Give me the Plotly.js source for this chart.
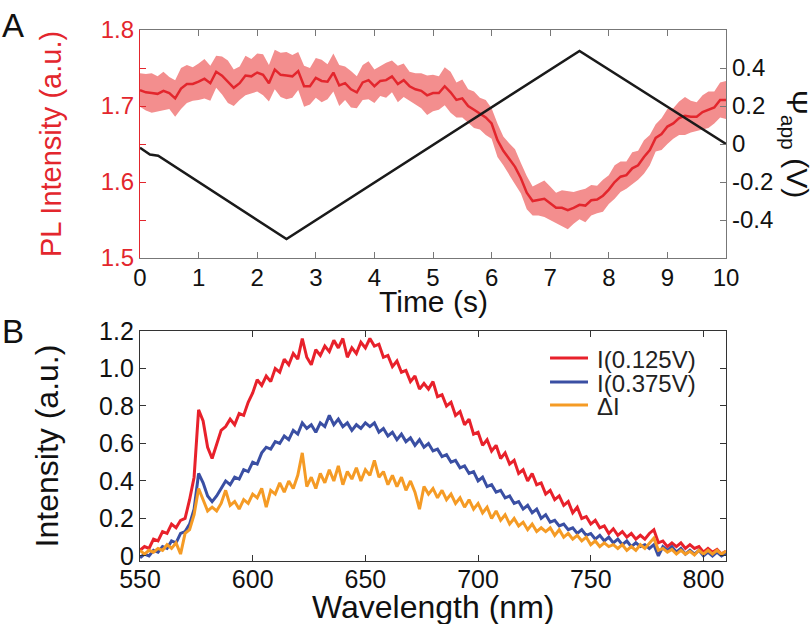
<!DOCTYPE html>
<html>
<head>
<meta charset="utf-8">
<script src="https://cdn.plot.ly/plotly-3.0.1.min.js"></script>
<style>
  body { margin: 0; background: #fff; }
  #chart { width: 812px; height: 624px; }
</style>
</head>
<body>
<div id="chart"></div>
<script>
// panel A: PL intensity vs time, with applied potential ramp
const time = [0,0.1,0.2,0.3,0.4,0.5,0.6,0.7,0.8,0.9,
  1,1.1,1.2,1.3,1.4,1.5,1.6,1.7,1.8,1.9,
  2,2.1,2.2,2.3,2.4,2.5,2.6,2.7,2.8,2.9,
  3,3.1,3.2,3.3,3.4,3.5,3.6,3.7,3.8,3.9,
  4,4.1,4.2,4.3,4.4,4.5,4.6,4.7,4.8,4.9,
  5,5.1,5.2,5.3,5.4,5.5,5.6,5.7,5.8,5.9,
  6,6.1,6.2,6.3,6.4,6.5,6.6,6.7,6.8,6.9,
  7,7.1,7.2,7.3,7.4,7.5,7.6,7.7,7.8,7.9,
  8,8.1,8.2,8.3,8.4,8.5,8.6,8.7,8.8,8.9,
  9,9.1,9.2,9.3,9.4,9.5,9.6,9.7,9.8,9.9,
  10];
const plMean = [1.721,1.718,1.717,1.716,1.720,1.717,1.710,1.723,1.729,1.729,
  1.732,1.736,1.730,1.745,1.740,1.732,1.724,1.730,1.740,1.739,
  1.744,1.741,1.730,1.748,1.741,1.740,1.739,1.746,1.726,1.726,
  1.737,1.733,1.732,1.744,1.727,1.730,1.722,1.718,1.731,1.734,
  1.726,1.733,1.734,1.739,1.729,1.734,1.726,1.722,1.720,1.714,
  1.717,1.717,1.726,1.718,1.708,1.710,1.700,1.695,1.690,1.685,
  1.677,1.655,1.641,1.630,1.620,1.605,1.586,1.575,1.577,1.578,
  1.572,1.566,1.566,1.563,1.566,1.570,1.569,1.576,1.577,1.582,
  1.590,1.600,1.607,1.609,1.618,1.622,1.633,1.642,1.658,1.663,
  1.673,1.677,1.684,1.687,1.686,1.686,1.692,1.695,1.698,1.708,
  1.708];
const plErr = [0.022,0.024,0.026,0.023,0.025,0.021,0.024,0.027,0.025,0.022,
  0.024,0.026,0.023,0.021,0.025,0.028,0.024,0.022,0.026,0.023,
  0.025,0.027,0.024,0.026,0.029,0.031,0.028,0.025,0.027,0.024,
  0.026,0.028,0.023,0.025,0.027,0.022,0.024,0.021,0.023,0.025,
  0.022,0.020,0.023,0.021,0.024,0.022,0.019,0.021,0.023,0.026,
  0.024,0.022,0.025,0.027,0.023,0.025,0.022,0.024,0.021,0.023,
  0.020,0.022,0.019,0.021,0.023,0.020,0.022,0.019,0.021,0.024,
  0.022,0.020,0.023,0.025,0.021,0.019,0.022,0.020,0.018,0.021,
  0.019,0.022,0.020,0.018,0.021,0.019,0.022,0.020,0.018,0.021,
  0.023,0.020,0.022,0.025,0.021,0.019,0.022,0.024,0.021,0.023,
  0.025];
const rampTime = [0, 0.17, 0.31, 2.5, 7.5, 10];
const rampVolt = [-0.02, -0.055, -0.062, -0.5, 0.49, 0];

// panel B: spectra
const wavelength = [550,552,554,556,558,560,562,564,566,568,
  570,572,574,576,578,580,582,584,586,588,
  590,592,594,596,598,600,602,604,606,608,
  610,612,614,616,618,620,622,624,626,628,
  630,632,634,636,638,640,642,644,646,648,
  650,652,654,656,658,660,662,664,666,668,
  670,672,674,676,678,680,682,684,686,688,
  690,692,694,696,698,700,702,704,706,708,
  710,712,714,716,718,720,722,724,726,728,
  730,732,734,736,738,740,742,744,746,748,
  750,752,754,756,758,760,762,764,766,768,
  770,772,774,776,778,780,782,784,786,788,
  790,792,794,796,798,800,802,804,806,808,
  810];
const i125 = [0.03,0.05,0.04,0.09,0.08,0.13,0.12,0.17,0.15,0.19,
  0.20,0.30,0.42,0.78,0.72,0.58,0.52,0.60,0.67,0.69,
  0.73,0.70,0.76,0.75,0.82,0.87,0.94,0.91,0.96,0.93,
  1.00,0.98,1.05,1.02,1.08,1.05,1.16,1.06,1.02,1.10,
  1.07,1.12,1.09,1.15,1.11,1.16,1.06,1.11,1.08,1.14,
  1.11,1.16,1.12,1.13,1.06,1.07,1.01,1.04,0.98,0.99,
  0.93,0.96,0.89,0.92,0.89,0.93,0.85,0.86,0.80,0.82,
  0.75,0.77,0.70,0.73,0.65,0.66,0.59,0.62,0.56,0.59,
  0.52,0.55,0.49,0.51,0.44,0.46,0.40,0.44,0.38,0.39,
  0.33,0.35,0.30,0.32,0.27,0.29,0.23,0.26,0.20,0.21,
  0.17,0.19,0.15,0.16,0.12,0.145,0.11,0.13,0.10,0.12,
  0.09,0.11,0.09,0.12,0.14,0.07,0.08,0.05,0.07,0.05,
  0.07,0.04,0.06,0.04,0.05,0.02,0.04,0.02,0.035,0.01,
  0.025];
const i375 = [-0.01,0.01,0.0,0.03,0.02,0.05,0.04,0.08,0.07,0.12,
  0.13,0.17,0.25,0.44,0.39,0.32,0.29,0.32,0.36,0.40,
  0.38,0.42,0.41,0.46,0.45,0.50,0.49,0.55,0.58,0.57,
  0.61,0.60,0.64,0.62,0.67,0.65,0.71,0.68,0.70,0.66,
  0.71,0.69,0.75,0.70,0.73,0.69,0.71,0.67,0.70,0.68,
  0.71,0.69,0.71,0.66,0.68,0.64,0.66,0.62,0.65,0.61,
  0.63,0.59,0.62,0.58,0.60,0.56,0.57,0.53,0.54,0.50,
  0.51,0.47,0.48,0.44,0.45,0.40,0.42,0.37,0.38,0.34,
  0.35,0.31,0.32,0.28,0.29,0.25,0.27,0.23,0.25,0.20,
  0.22,0.18,0.19,0.16,0.17,0.14,0.15,0.12,0.14,0.11,
  0.12,0.09,0.11,0.08,0.10,0.07,0.09,0.06,0.08,0.05,
  0.07,0.05,0.06,0.04,0.06,0.0,0.05,0.03,0.05,0.02,
  0.04,0.01,0.03,0.01,0.03,0.0,0.02,0.0,0.02,0.0,
  0.015];
const deltaI = [0.03,0.01,0.03,0.02,0.04,0.03,0.06,0.04,0.07,0.01,
  0.12,0.14,0.22,0.36,0.30,0.24,0.26,0.24,0.28,0.35,
  0.27,0.29,0.25,0.30,0.28,0.33,0.31,0.36,0.26,0.35,
  0.33,0.39,0.34,0.40,0.36,0.43,0.55,0.37,0.42,0.36,
  0.44,0.39,0.46,0.40,0.48,0.38,0.45,0.41,0.47,0.40,
  0.46,0.43,0.51,0.42,0.45,0.38,0.43,0.37,0.42,0.35,
  0.40,0.34,0.25,0.37,0.33,0.36,0.31,0.35,0.30,0.33,
  0.28,0.31,0.26,0.30,0.25,0.28,0.23,0.26,0.20,0.24,
  0.19,0.22,0.17,0.20,0.16,0.18,0.14,0.17,0.13,0.15,
  0.13,0.15,0.11,0.14,0.10,0.12,0.09,0.11,0.08,0.10,
  0.06,0.08,0.05,0.07,0.05,0.06,0.04,0.06,0.03,0.05,
  0.03,0.06,0.04,0.07,0.095,0.03,0.04,0.02,0.035,0.01,
  0.03,0.01,0.025,0.005,0.03,0.01,0.03,0.01,0.03,0.01,
  0.025];
const seriesNames = ['I(0.125V)', 'I(0.375V)', 'ΔI'];
const seriesColors = ['#e8212b', '#3a4fa3', '#f59b25'];

const RED = '#e3262d';
const FONT = 'Liberation Sans, Arial, Helvetica, sans-serif';

let upper = plMean.map((v, i) => v + plErr[i]);
let lower = plMean.map((v, i) => v - plErr[i]);

let traces = [
  { x: time, y: upper, xaxis: 'x', yaxis: 'y', mode: 'lines',
    line: { width: 0, color: 'rgba(0,0,0,0)' }, hoverinfo: 'skip' },
  { x: time, y: lower, xaxis: 'x', yaxis: 'y', mode: 'lines', fill: 'tonexty',
    fillcolor: 'rgb(243,142,142)', line: { width: 0, color: 'rgba(0,0,0,0)' },
    hoverinfo: 'skip' },
  { x: time, y: plMean, xaxis: 'x', yaxis: 'y', mode: 'lines',
    line: { color: RED, width: 2.5 } },
  { x: rampTime, y: rampVolt, xaxis: 'x', yaxis: 'y2', mode: 'lines',
    line: { color: '#1a1a1a', width: 2.5 } }
];
[i125, i375, deltaI].forEach((s, k) => {
  traces.push({ x: wavelength, y: s, xaxis: 'x2', yaxis: 'y3', mode: 'lines',
    name: seriesNames[k], line: { color: seriesColors[k], width: 3 } });
});

// legend drawn by hand so the rows sit as tight as in the figure
let legendShapes = [];
let legendNotes = [];
let rowY = [0.3823, 0.3371, 0.2938];
seriesNames.forEach((nm, k) => {
  legendShapes.push({ type: 'line', xref: 'paper', yref: 'paper',
    x0: 0.6997, x1: 0.7645, y0: rowY[k], y1: rowY[k],
    line: { color: seriesColors[k], width: 3 } });
  legendNotes.push({ text: nm, xref: 'paper', yref: 'paper', x: 0.776, y: rowY[k] - 0.002,
    xanchor: 'left', yanchor: 'middle', showarrow: false,
    font: { size: 24, color: '#222' } });
});

let layout = {
  width: 812,
  height: 624,
  margin: { l: 140, r: 86, t: 30, b: 63 },
  paper_bgcolor: '#fff',
  plot_bgcolor: '#fff',
  font: { family: FONT, color: '#111', size: 24 },
  showlegend: false,
  xaxis: {
    domain: [0, 1], anchor: 'y', range: [0, 10],
    tickvals: [0,1,2,3,4,5,6,7,8,9,10],
    ticks: 'inside', ticklen: 6, tickcolor: '#777', mirror: 'ticks',
    showline: true, linecolor: '#777', linewidth: 1.2,
    showgrid: false, zeroline: false, ticklabelstandoff: -2,
    tickfont: { size: 24, color: '#111' }
  },
  yaxis: {
    domain: [0.5706, 1], anchor: 'x', range: [1.5, 1.8],
    tickvals: [1.5, 1.55, 1.6, 1.65, 1.7, 1.75, 1.8],
    ticktext: ['1.5', '', '1.6', '', '1.7', '', '1.8'],
    ticks: 'inside', ticklen: 6, tickcolor: RED,
    showline: true, linecolor: RED, linewidth: 1.2,
    showgrid: false, zeroline: false,
    tickfont: { size: 24, color: RED },
    title: { text: 'PL Intensity (a.u.)', font: { size: 29, color: RED }, standoff: 30 }
  },
  yaxis2: {
    overlaying: 'y', side: 'right', anchor: 'x', range: [-0.6, 0.6],
    tickvals: [-0.4, -0.2, 0, 0.2, 0.4],
    ticktext: ['-0.4', '-0.2', '0', '0.2', '0.4'],
    ticks: 'inside', ticklen: 6, tickcolor: '#777',
    showline: true, linecolor: '#777', linewidth: 1.2,
    showgrid: false, zeroline: false,
    tickfont: { size: 24, color: '#111' }
  },
  xaxis2: {
    domain: [0, 1], anchor: 'y3', range: [550, 810],
    tickvals: [550, 600, 650, 700, 750, 800],
    ticks: 'inside', ticklen: 6, tickcolor: '#333', mirror: 'ticks',
    showline: true, linecolor: '#333', linewidth: 1.2,
    showgrid: false, zeroline: false, ticklabelstandoff: -4,
    tickfont: { size: 25, color: '#111' }
  },
  yaxis3: {
    domain: [0, 0.4331], anchor: 'x2', range: [-0.027, 1.2],
    tickvals: [0, 0.2, 0.4, 0.6, 0.8, 1.0, 1.2],
    ticktext: ['0', '0.2', '0.4', '0.6', '0.8', '1.0', '1.2'],
    ticks: 'inside', ticklen: 6, tickcolor: '#333', mirror: 'ticks',
    showline: true, linecolor: '#333', linewidth: 1.2,
    showgrid: false, zeroline: false,
    tickfont: { size: 25, color: '#111' },
    title: { text: 'Intensity (a.u.)', font: { size: 32, color: '#111' }, standoff: 30 }
  },
  shapes: legendShapes,
  annotations: [
    { text: 'A', xref: 'paper', yref: 'paper', x: -0.239, y: 1.0094,
      xanchor: 'left', yanchor: 'middle', showarrow: false, font: { size: 33, color: '#111' } },
    { text: 'B', xref: 'paper', yref: 'paper', x: -0.239, y: 0.4313,
      xanchor: 'left', yanchor: 'middle', showarrow: false, font: { size: 33, color: '#111' } },
    { text: 'Time (s)', xref: 'paper', yref: 'paper', x: 0.5, y: 0.4895,
      xanchor: 'center', yanchor: 'middle', showarrow: false, font: { size: 30, color: '#111' } },
    { text: 'Wavelength (nm)', xref: 'paper', yref: 'paper', x: 0.5, y: -0.0866,
      xanchor: 'center', yanchor: 'middle', showarrow: false, font: { size: 32, color: '#111' } },
    { text: 'Ψ<sub>app</sub> (V)', xref: 'paper', yref: 'paper', x: 1.12, y: 0.7853,
      xanchor: 'center', yanchor: 'middle', textangle: 90, showarrow: false,
      font: { size: 30, color: '#111' } }
  ].concat(legendNotes)
};

Plotly.newPlot('chart', traces, layout, { displayModeBar: false, staticPlot: true });
</script>
</body>
</html>
